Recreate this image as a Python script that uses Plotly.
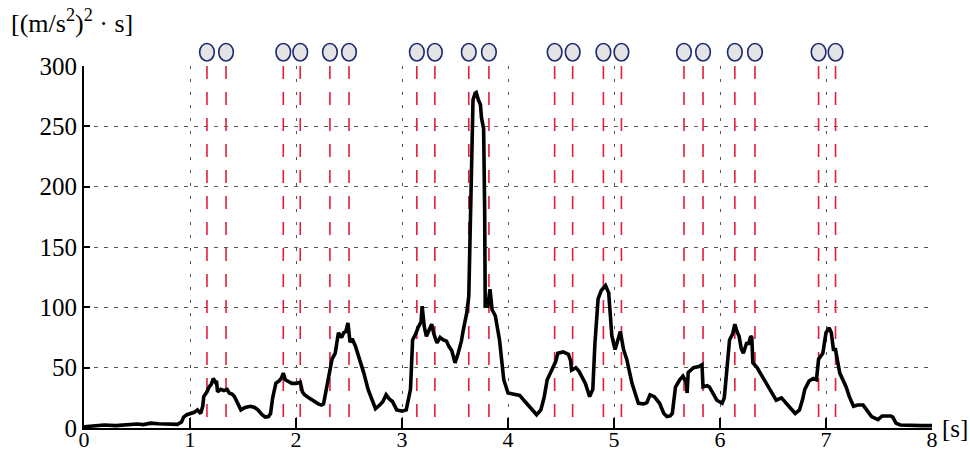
import plotly.graph_objects as go

# Signal trace: time [s] and accumulated value [(m/s^2)^2 * s]
time_s = [
    0.00, 0.10, 0.19, 0.30, 0.40, 0.50, 0.56, 0.63, 0.70, 0.80, 0.88, 0.92, 0.94, 0.97,
    1.00, 1.04, 1.07, 1.10, 1.12, 1.13, 1.16, 1.18, 1.20, 1.22, 1.24, 1.25, 1.26, 1.29,
    1.32, 1.35, 1.37, 1.40, 1.42, 1.45, 1.48, 1.52, 1.57, 1.61, 1.64, 1.68, 1.71, 1.74,
    1.76, 1.78, 1.81, 1.84, 1.86, 1.88, 1.90, 1.92, 1.96, 2.00, 2.04, 2.06, 2.08, 2.12,
    2.17, 2.21, 2.24, 2.26, 2.29, 2.32, 2.34, 2.37, 2.38, 2.40, 2.43, 2.45, 2.47, 2.49,
    2.51, 2.53, 2.56, 2.60, 2.64, 2.68, 2.72, 2.75, 2.79, 2.82, 2.85, 2.88, 2.91, 2.95,
    3.00, 3.04, 3.08, 3.10, 3.13, 3.15, 3.18, 3.19, 3.21, 3.23, 3.26, 3.28, 3.30, 3.33,
    3.36, 3.39, 3.42, 3.44, 3.47, 3.50, 3.53, 3.56, 3.58, 3.61, 3.63, 3.64, 3.65, 3.66,
    3.67, 3.69, 3.70, 3.72, 3.74, 3.75, 3.77, 3.78, 3.785, 3.81, 3.83, 3.85, 3.88, 3.92,
    3.96, 4.00, 4.05, 4.11, 4.16, 4.21, 4.27, 4.31, 4.34, 4.37, 4.43, 4.45, 4.47, 4.52,
    4.57, 4.59, 4.60, 4.64, 4.67, 4.73, 4.77, 4.80, 4.82, 4.85, 4.88, 4.92, 4.95, 4.97,
    4.98, 5.01, 5.04, 5.06, 5.09, 5.12, 5.17, 5.23, 5.28, 5.31, 5.34, 5.38, 5.43, 5.47,
    5.50, 5.53, 5.55, 5.58, 5.62, 5.65, 5.68, 5.69, 5.70, 5.75, 5.80, 5.83, 5.84, 5.88,
    5.90, 5.94, 5.97, 6.02, 6.04, 6.05, 6.07, 6.09, 6.12, 6.14, 6.16, 6.18, 6.20, 6.22,
    6.25, 6.27, 6.29, 6.30, 6.31, 6.35, 6.38, 6.44, 6.49, 6.53, 6.58, 6.62, 6.67, 6.71,
    6.75, 6.78, 6.80, 6.84, 6.88, 6.91, 6.93, 6.97, 7.00, 7.03, 7.05, 7.07, 7.09, 7.11,
    7.13, 7.19, 7.22, 7.26, 7.30, 7.35, 7.39, 7.43, 7.49, 7.53, 7.56, 7.61, 7.63, 7.66,
    7.70, 7.80, 7.90, 8.00,
]
value = [
    1, 1.5, 2.5, 2, 2.5, 3.3, 2.8, 4, 3.5, 3.2, 3, 5, 9, 11,
    12, 13, 15, 12, 18, 26, 30, 34, 36, 41, 38, 39, 30, 32,
    31, 32, 29, 28, 26, 20, 15, 17, 18, 17, 15, 11, 9, 9.5,
    12, 25, 37, 39, 41, 45.5, 40, 39, 37, 37, 38, 30, 27.5, 25,
    22, 20, 19, 20, 34, 50, 57, 62, 68, 79, 75, 79, 80, 87,
    71, 74, 68, 57, 45.5, 32, 22, 16, 19, 22, 27.5, 24, 22, 15,
    14, 15, 32, 73, 78, 83, 88, 101, 84, 76, 82, 86, 78, 70.5,
    75, 73, 72, 68, 64, 54, 62, 72, 82, 95, 109, 151, 207, 262,
    272, 277.5, 278, 272, 268, 257, 248, 179, 101, 101, 115, 98, 93, 73,
    40, 29, 28, 27, 22, 17, 11, 15, 25, 40, 52.5, 55, 62, 63,
    61, 56, 48, 50, 47, 37, 26, 32, 70, 107, 114, 118, 112, 90,
    76, 65, 75, 80, 65, 57, 37, 20.5, 20, 21, 27.5, 26, 20.5, 12,
    9.5, 10, 12, 34, 40, 43, 38, 29, 46, 50, 51, 52.5, 34, 35,
    34, 28, 23, 20.5, 25, 34, 55, 73, 78, 86, 80, 76, 66, 62,
    70, 70, 76, 75, 54, 50, 45.5, 37, 30, 23, 25, 20.5, 16, 12,
    15, 24, 32, 39, 41, 40, 57, 62, 79, 83, 79, 65, 65, 55,
    45.5, 34, 26, 18, 19, 19, 14, 9.5, 7, 10, 10, 10, 9, 4,
    2.5, 2, 2, 2,
]

# Event instants (in pairs): red dashed lines topped by circles
event_times = [
    1.16, 1.34, 1.88, 2.04, 2.32, 2.50, 3.14, 3.31, 3.63, 3.82,
    4.44, 4.61, 4.90, 5.07, 5.66, 5.84, 6.14, 6.33, 6.93, 7.09,
]

x_ticks = [0, 1, 2, 3, 4, 5, 6, 7, 8]
y_ticks = [0, 50, 100, 150, 200, 250, 300]
y_label = "[(m/s<sup>2</sup>)<sup>2</sup> · s]"
x_label = "[s]"

FONT = "Liberation Serif"
GRID = "#555555"

fig = go.Figure()

# main signal
fig.add_trace(go.Scatter(
    x=time_s, y=value, mode="lines",
    line=dict(color="black", width=3.6),
    hoverinfo="skip", showlegend=False,
))

shapes = []
for t in event_times:
    shapes.append(dict(
        type="line", xref="x", yref="y", x0=t, x1=t, y0=300, y1=0,
        line=dict(color="#e3203a", width=1.6, dash="13px,13px"),
        layer="between",
    ))
    # circle marker above the plotting area
    shapes.append(dict(
        type="circle", xref="x", yref="paper",
        x0=t - 0.069, x1=t + 0.069, y0=1.014, y1=1.062,
        line=dict(color="#1c2a72", width=1.6),
        fillcolor="#e4e4e4", layer="above",
    ))

fig.update_layout(
    width=970, height=455,
    margin=dict(l=84, r=38, t=66, b=27),
    paper_bgcolor="white", plot_bgcolor="white",
    font=dict(family=FONT, size=25, color="black"),
    shapes=shapes,
    showlegend=False,
    annotations=[
        dict(text=y_label, xref="paper", yref="paper", x=-0.088, y=1.122,
             xanchor="left", yanchor="middle", showarrow=False,
             font=dict(family=FONT, size=26, color="black")),
        dict(text=x_label, xref="paper", yref="paper", x=1.009, y=0.0,
             xanchor="left", yanchor="middle", showarrow=False,
             font=dict(family=FONT, size=25, color="black")),
    ],
)

fig.update_xaxes(
    range=[0, 8], tickvals=x_ticks, ticktext=[str(v) for v in x_ticks],
    tickfont=dict(family=FONT, size=22, color="black"),
    showline=True, linecolor="black", linewidth=2,
    ticks="inside", ticklen=10, tickwidth=1.5, tickcolor="black",
    ticklabelstandoff=-9,
    showgrid=True, gridcolor=GRID, gridwidth=1.3, griddash="3px,10px",
    zeroline=False, fixedrange=True, automargin=False,
)
fig.update_yaxes(
    range=[0, 300], tickvals=y_ticks, ticktext=[str(v) for v in y_ticks],
    showline=True, linecolor="black", linewidth=2,
    ticks="inside", ticklen=6, tickwidth=1.5, tickcolor="black",
    showgrid=True, gridcolor=GRID, gridwidth=1.2, griddash="4px,6px",
    zeroline=False, fixedrange=True, automargin=False,
)

fig.write_html("out.html")
